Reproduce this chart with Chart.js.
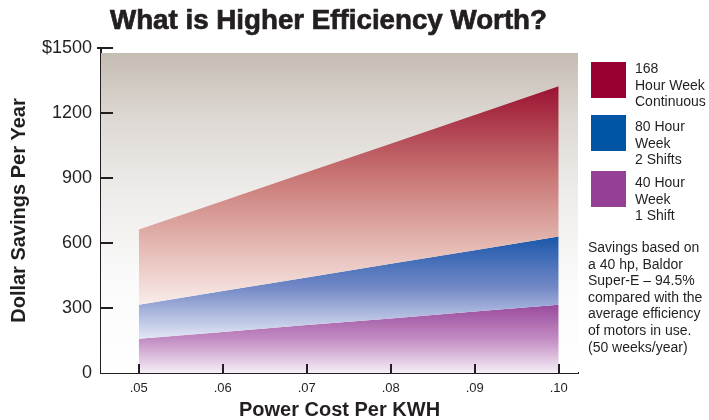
<!DOCTYPE html>
<html>
<head>
<meta charset="utf-8">
<script src="https://cdn.jsdelivr.net/npm/chart.js@4/dist/chart.umd.min.js"></script>
<style>
  html, body { margin: 0; padding: 0; background: #ffffff; }
  #wrap { position: relative; width: 709px; height: 420px; overflow: hidden; font-family: "Liberation Sans", Arial, sans-serif; color: #231f20; }
  #c { position: absolute; left: 0; top: 0; }
  #title { position: absolute; left: 110px; top: 7px; font-family: "Liberation Sans Narrow", "Liberation Sans", Arial, sans-serif; font-weight: bold; font-size: 27px; line-height: 27px; white-space: nowrap; transform-origin: 0 0; color: #231f20; -webkit-text-stroke: 0.7px #231f20; }
  .sw { position: absolute; left: 591px; width: 35px; height: 36px; }
  .lt { position: absolute; left: 635px; font-size: 14px; line-height: 16.5px; white-space: nowrap; }
  #note { position: absolute; left: 588px; top: 239px; font-size: 14px; line-height: 16.6px; white-space: nowrap; }
</style>
</head>
<body>
<div id="wrap">
  <canvas id="c" width="709" height="420"></canvas>
  <div id="title">What is Higher Efficiency Worth?</div>
  <div class="sw" style="top:62px;background:#990030"></div>
  <div class="lt" style="top:60px">168<br>Hour Week<br>Continuous</div>
  <div class="sw" style="top:115px;background:#0055a5"></div>
  <div class="lt" style="top:118px">80 Hour<br>Week<br>2 Shifts</div>
  <div class="sw" style="top:171px;background:#963f96"></div>
  <div class="lt" style="top:174px">40 Hour<br>Week<br>1 Shift</div>
  <div id="note">Savings based on<br>a 40 hp, Baldor<br>Super-E – 94.5%<br>compared with the<br>average efficiency<br>of motors in use.<br>(50 weeks/year)</div>
</div>
<script>
// ---- data ----
const costs = [0.05, 0.06, 0.07, 0.08, 0.09, 0.10];
const xTickLabels = ['.05', '.06', '.07', '.08', '.09', '.10'];
const savings168 = [662, 794, 926, 1058, 1191, 1323];
const savings80 = [315, 378, 441, 504, 567, 630];
const savings40 = [158, 189, 221, 252, 284, 315];
const yTickValues = [0, 300, 600, 900, 1200, 1500];
const yTickLabels = ['0', '300', '600', '900', '1200', '$1500'];
const seriesNames = ['168 Hour Week Continuous', '80 Hour Week 2 Shifts', '40 Hour Week 1 Shift'];

// fit title width
(function(){
  const t = document.getElementById('title');
  const w = t.getBoundingClientRect().width;
  t.style.transform = 'scaleX(' + (437 / w) + ')';
})();

const ink = '#231f20';

function bandGradient(stops, topArr, bottomArr) {
  return (ctx) => {
    const chart = ctx.chart;
    const { chartArea, scales } = chart;
    if (!chartArea) return stops[0][1];
    const y0 = scales.y.getPixelForValue(Math.max(...topArr));
    const y1 = scales.y.getPixelForValue(bottomArr ? Math.min(...bottomArr) : 0);
    const g = chart.ctx.createLinearGradient(0, y0, 0, y1);
    stops.forEach(([o, c]) => g.addColorStop(o, c));
    return g;
  };
}

const bgPlugin = {
  id: 'bg',
  beforeDatasetsDraw(chart) {
    const { ctx, chartArea: a } = chart;
    const top = a.top + 5;
    const g = ctx.createLinearGradient(0, top, 0, a.bottom);
    g.addColorStop(0, '#c5bcb3');
    g.addColorStop(0.2, '#ddd8d3');
    g.addColorStop(0.45, '#efedeb');
    g.addColorStop(0.7, '#fafafa');
    g.addColorStop(1, '#ffffff');
    ctx.save();
    ctx.fillStyle = g;
    ctx.fillRect(a.left, top, a.right - a.left, a.bottom - top);
    ctx.restore();
  }
};

const innerTicks = {
  id: 'innerTicks',
  afterDraw(chart) {
    const { ctx, chartArea: a, scales } = chart;
    ctx.save();
    ctx.strokeStyle = ink;
    ctx.lineWidth = 2;
    yTickValues.forEach((v, i) => {
      if (v === 0) return;
      const y = Math.round(scales.y.getPixelForValue(v));
      ctx.beginPath();
      ctx.moveTo(a.left - (i === yTickValues.length - 1 ? 4 : 0), y);
      ctx.lineTo(a.left + 12, y);
      ctx.stroke();
    });
    costs.forEach(v => {
      const x = Math.round(scales.x.getPixelForValue(v));
      ctx.beginPath();
      ctx.moveTo(x, a.bottom);
      ctx.lineTo(x, a.bottom - 9);
      ctx.stroke();
    });
    ctx.restore();
  }
};

const mk = (arr) => costs.map((c, i) => ({ x: c, y: arr[i] }));

new Chart(document.getElementById('c'), {
  type: 'line',
  data: {
    datasets: [
      {
        label: seriesNames[0], data: mk(savings168), fill: '+1',
        backgroundColor: bandGradient([[0, '#9b1232'], [0.4, '#c77473'], [0.72, '#e4b7b0'], [1, '#f9ecea']], savings168, savings80),
        borderWidth: 0, pointRadius: 0, tension: 0
      },
      {
        label: seriesNames[1], data: mk(savings80), fill: '+1',
        backgroundColor: bandGradient([[0, '#1a57aa'], [0.5, '#7489c7'], [1, '#e4e7f5']], savings80, savings40),
        borderWidth: 0, pointRadius: 0, tension: 0
      },
      {
        label: seriesNames[2], data: mk(savings40), fill: 'origin',
        backgroundColor: bandGradient([[0, '#9a4a9c'], [0.5, '#c28cc3'], [1, '#f5eef6']], savings40, null),
        borderWidth: 0, pointRadius: 0, tension: 0
      }
    ]
  },
  options: {
    responsive: false,
    animation: false,
    devicePixelRatio: 1,
    layout: { padding: { top: 48, right: 131, left: 0, bottom: 0 } },
    plugins: { legend: { display: false }, tooltip: { enabled: false }, title: { display: false } },
    scales: {
      x: {
        type: 'linear', min: 0.0455, max: 0.1023, z: 1,
        afterBuildTicks: s => { s.ticks = costs.map(v => ({ value: v })); },
        afterFit: s => { s.height = 47; },
        grid: { display: false, drawTicks: false },
        border: { display: true, color: ink, width: 2 },
        ticks: {
          padding: 8, color: ink, maxRotation: 0, autoSkip: false,
          font: { family: 'Liberation Sans', size: 13 },
          callback: (v, i) => xTickLabels[i]
        },
        title: {
          display: true, text: 'Power Cost Per KWH', color: ink,
          font: { family: 'Liberation Sans', size: 20, weight: 'bold', lineHeight: 1 },
          padding: { top: 0, bottom: 0 }
        }
      },
      y: {
        min: 0, max: 1500, z: 1,
        afterBuildTicks: s => { s.ticks = yTickValues.map(v => ({ value: v })); },
        afterFit: s => { s.width = 101; },
        grid: { display: false, drawTicks: false },
        border: { display: true, color: ink, width: 2 },
        ticks: {
          padding: 9, color: ink, autoSkip: false,
          font: { family: 'Liberation Sans', size: 18 },
          callback: (v, i) => yTickLabels[i]
        },
        title: {
          display: true, text: 'Dollar Savings Per Year', color: ink,
          font: { family: 'Liberation Sans', size: 20, weight: 'bold', lineHeight: 1 },
          padding: { top: 9.5, bottom: 0 }
        }
      }
    }
  },
  plugins: [bgPlugin, innerTicks]
});
</script>
</body>
</html>
